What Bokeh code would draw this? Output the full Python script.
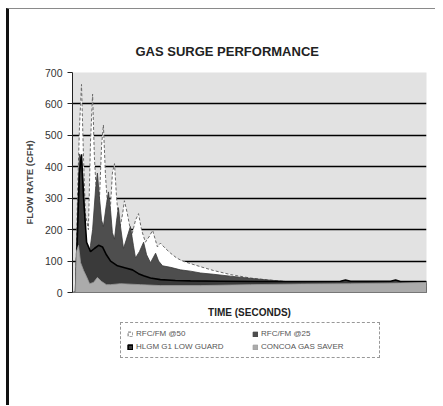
from bokeh.plotting import figure
from bokeh.layouts import column
from bokeh.models import Range1d, FixedTicker, Legend, LegendItem
from bokeh.embed import file_html
from bokeh.resources import INLINE

# ---- data (time in seconds, flow rate in CFH) ----
t_rfc50 = [0, 1, 1.7, 2.3, 3, 3.7, 4.3, 5.3, 6, 6.7, 7.3, 8.3, 9, 9.7, 10.3, 11, 12, 12.7,
           13.3, 14, 14.7, 15.7, 16.7, 17.3, 18.3, 19.7, 21, 22, 23, 24.3, 25.7, 26.7, 27.7,
           28.3, 29.3, 31, 32.7, 34.7, 36.7, 39.3, 42.7, 47, 52.7, 59.3, 65, 71, 76, 86, 99.3, 118]
rfc50 = [0, 0, 320, 520, 662, 420, 250, 200, 480, 631, 430, 260, 300, 470, 533, 370, 240, 280,
         380, 410, 300, 200, 250, 292, 250, 180, 230, 251, 200, 160, 180, 198, 165,
         145, 157, 140, 125, 110, 100, 92, 82, 70, 57, 46, 40, 35, 31, 28, 27, 28]

t_rfc25 = [0, 1, 1.7, 2.3, 3, 3.7, 4.7, 5.3, 6, 6.7, 7.7, 8.3, 9, 9.7, 10.3, 11.3, 12, 12.7,
           13.3, 14, 14.7, 15.3, 16, 17, 18, 19.3, 20.3, 21, 22.3, 23.7, 24.7, 26, 27.7, 28.7,
           30, 32.7, 36, 39.3, 42.7, 47, 52.7, 59.3, 65, 71, 76, 86, 99.3, 118]
rfc25 = [0, 0, 250, 440, 420, 330, 120, 70, 150, 200, 330, 380, 300, 230, 210, 280, 320, 260,
         190, 170, 230, 270, 210, 140, 170, 210, 150, 110, 130, 160, 120, 95, 125, 100,
         85, 80, 72, 68, 62, 58, 52, 45, 40, 35, 32, 29, 27, 28]

t_hlgm = [0, 1, 1.7, 2.3, 3, 3.7, 4.7, 6, 7.3, 8.7, 10, 11.3, 12.7, 15, 17.7, 20, 22, 23.7,
          26, 29.3, 34.3, 39.3, 49.3, 62.7, 76, 89.3, 91, 92.7, 106, 107.7, 109.3, 118]
hlgm = [0, 0, 200, 380, 440, 300, 160, 130, 140, 150, 145, 120, 100, 85, 78, 72, 60, 53,
        46, 41, 38, 37, 36, 35, 35, 36, 40, 36, 36, 40, 35, 35]

t_concoa = [0, 1, 1.3, 2, 2.7, 3.7, 4.7, 5.7, 7, 8.3, 9.7, 11.3, 12.7, 16, 22.7, 29.3, 42.7,
            59.3, 76, 92.7, 109.3, 118]
concoa = [0, 0, 130, 150, 95, 70, 50, 28, 32, 48, 35, 25, 25, 28, 25, 22, 22,
          25, 27, 28, 30, 32]

series_names = ["RFC/FM @50", "RFC/FM @25", "HLGM G1 LOW GUARD", "CONCOA GAS SAVER"]
y_ticks = [0, 100, 200, 300, 400, 500, 600, 700]
grid_ticks = [100, 200, 300, 400, 500, 600]

FONT = "Liberation Sans"
STYLES = [dict(fill_color="white", line_color="#6a6a6a", line_width=1, line_dash="3 2"),
          dict(fill_color="#4e4e4e", line_color="#3a3a3a", line_width=0.8),
          dict(fill_color="#3a3a3a", line_color="#000000", line_width=1.6),
          dict(fill_color="#ababab", line_color="#9a9a9a", line_width=0.8)]


def closed(t, v):
    return list(t) + [t[-1], t[0]], list(v) + [0, 0]


p = figure(width=426, height=311, output_backend="svg", toolbar_location=None,
           x_range=Range1d(0, 118), y_range=Range1d(0, 700),
           min_border_left=63, min_border_right=9, min_border_top=63, min_border_bottom=25,
           background_fill_color="#e2e2e2", border_fill_color="white")
p.outline_line_color = None

# title
p.title.text = "GAS SURGE PERFORMANCE"
p.title.align = "left"
p.title.offset = 63
p.title.text_font = FONT
p.title.text_font_size = "13px"
p.title.text_font_style = "bold"
p.title.text_color = "#222222"
p.title.standoff = 28

# areas (drawn back to front like the spreadsheet chart)
for t, v, st in zip([t_rfc50, t_rfc25, t_hlgm, t_concoa], [rfc50, rfc25, hlgm, concoa], STYLES):
    xs, ys = closed(t, v)
    p.patch(xs, ys, **st)

# axes
p.yaxis.ticker = FixedTicker(ticks=y_ticks)
p.ygrid.ticker = FixedTicker(ticks=grid_ticks)
p.ygrid.grid_line_color = "black"
p.ygrid.grid_line_width = 1.6
p.xgrid.grid_line_color = None
p.yaxis.major_tick_out = 5
p.yaxis.major_tick_in = 0
p.yaxis.minor_tick_line_color = None
p.yaxis.major_label_standoff = 5
p.yaxis.major_label_text_font = FONT
p.yaxis.major_label_text_font_size = "10.5px"
p.yaxis.major_label_text_color = "#333333"
p.yaxis.axis_line_color = "#222222"
p.yaxis.major_tick_line_color = "#222222"
p.yaxis.axis_label = "FLOW RATE (CFH)"
p.yaxis.axis_label_text_font = FONT
p.yaxis.axis_label_text_font_size = "9.5px"
p.yaxis.axis_label_text_font_style = "bold"
p.yaxis.axis_label_text_color = "#444444"
p.yaxis.axis_label_standoff = 7

p.xaxis.ticker = FixedTicker(ticks=[])
p.xaxis.minor_tick_line_color = None
p.xaxis.major_tick_line_color = None
p.xaxis.axis_line_color = "#777777"
p.xaxis.axis_label = "TIME (SECONDS)"
p.xaxis.axis_label_text_font = FONT
p.xaxis.axis_label_text_font_size = "10px"
p.xaxis.axis_label_text_font_style = "bold"
p.xaxis.axis_label_text_color = "#222222"
p.xaxis.axis_label_standoff = 14

# legend panel below the chart (swatches only, no data)
lg = figure(width=426, height=85, output_backend="svg", toolbar_location=None,
            x_axis_location=None, y_axis_location=None,
            min_border_left=0, min_border_right=0, min_border_top=0, min_border_bottom=0,
            background_fill_color="white", border_fill_color="white")
lg.outline_line_color = None
lg.grid.visible = False
nan = float("nan")
swatches = [lg.patch([nan], [nan], **st) for st in STYLES]
legend = Legend(items=[LegendItem(label=n, renderers=[r]) for n, r in zip(series_names, swatches)],
                ncols=2, location=(48, 47), orientation="horizontal",
                glyph_width=6, glyph_height=6, label_standoff=3, label_width=112,
                label_height=9, spacing=4, padding=6, margin=0,
                label_text_font=FONT, label_text_font_size="8px", label_text_color="#555555",
                border_line_color="#333333", border_line_width=1, border_line_dash="2 1",
                background_fill_color="white", background_fill_alpha=1)
lg.add_layout(legend, "center")

layout = column(p, lg, spacing=0,
                styles={"border-left": "3px solid #111", "border-top": "1px solid #8a8a8a",
                        "margin-left": "6px", "margin-top": "8px"})

open("out.html", "w").write(file_html(layout, INLINE))
